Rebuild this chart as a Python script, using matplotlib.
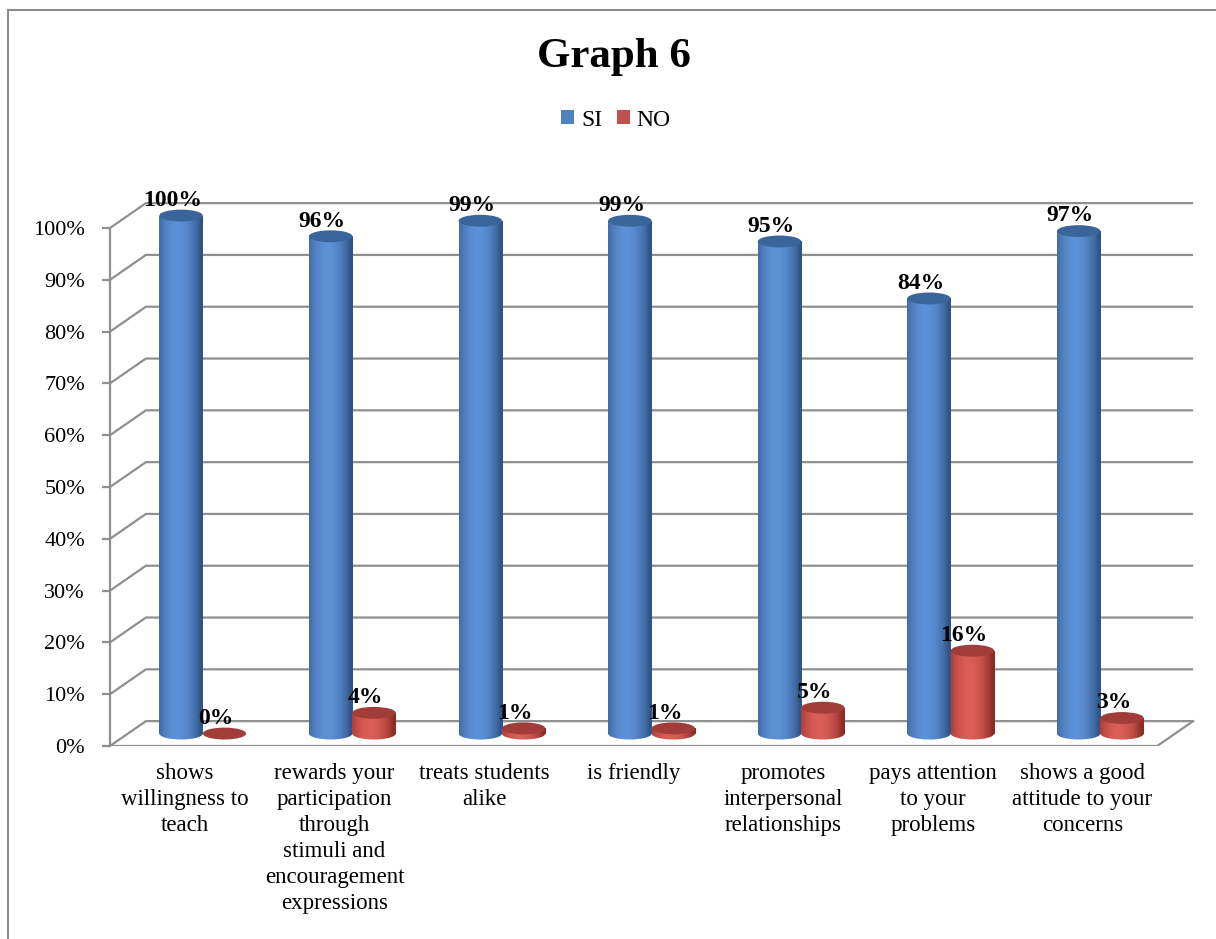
import numpy as np
from matplotlib import pyplot as plt
from matplotlib.lines import Line2D
from matplotlib.patches import Ellipse, Patch, Rectangle

# Data
categories = [
    "shows\nwillingness to\nteach",
    "rewards your\nparticipation\nthrough\nstimuli and\nencouragement\nexpressions",
    "treats students\nalike",
    "is friendly",
    "promotes\ninterpersonal\nrelationships",
    "pays attention\nto your\nproblems",
    "shows a good\nattitude to your\nconcerns",
]
si_values = [100, 96, 99, 99, 95, 84, 97]
no_values = [0, 4, 1, 1, 5, 16, 3]
series_names = ["SI", "NO"]
y_ticks = [0, 10, 20, 30, 40, 50, 60, 70, 80, 90, 100]

plt.rcParams["font.family"] = ["Liberation Serif", "DejaVu Serif"]

W, H = 1216, 939
fig = plt.figure(figsize=(W / 100, H / 100), dpi=100)

# Pseudo-3D geometry (depth offset of the back wall, in data units)
depth_x = 0.24
depth_y = 4.8
x_min, x_max = -0.5, len(categories) - 0.5
y_top = 110
px_per_cat = 149.6
px_per_pct = 5.18

ax = fig.add_axes([
    110 / W,
    (H - 746) / H,
    (x_max + 0.3 - x_min) * px_per_cat / W,
    y_top * px_per_pct / H,
])
ax.set_xlim(x_min, x_max + 0.3)
ax.set_ylim(0, y_top)
ax.set_autoscale_on(False)

grid_color = "#8f8f8f"
grid_lw = 1.6

# Back wall gridlines + side wall diagonals
for v in y_ticks:
    ax.plot([x_min, x_min + depth_x, x_max + depth_x],
            [v, v + depth_y, v + depth_y],
            color=grid_color, lw=grid_lw, zorder=1, solid_capstyle="butt")

# Floor front edge and right edge
ax.plot([x_min, x_max, x_max + depth_x], [0, 0, depth_y],
        color=grid_color, lw=grid_lw, zorder=1)

# Left value axis
for s in ["top", "right", "bottom"]:
    ax.spines[s].set_visible(False)
ax.spines["left"].set_bounds(0, 100)
ax.spines["left"].set_color(grid_color)
ax.spines["left"].set_linewidth(grid_lw)
ax.set_yticks(y_ticks)
ax.set_yticklabels([f"{v}%" for v in y_ticks])
ax.tick_params(axis="y", length=6, width=grid_lw, color=grid_color,
               labelsize=16, pad=12)

ax.set_xticks(range(len(categories)))
ax.set_xticklabels(categories, fontsize=16.5, linespacing=1.32, va="top")
ax.tick_params(axis="x", length=0, pad=12)


def shade(dark, light, n=64):
    t = np.linspace(0, 1, n)
    f = np.clip(np.cos(np.pi * (t - 0.42) * 0.95), 0, 1) ** 0.8
    dark = np.array(dark)
    light = np.array(light)
    return (dark[None, :] * (1 - f[:, None]) + light[None, :] * f[:, None])[None, :, :]


blue_grad = shade((0.19, 0.33, 0.53), (0.36, 0.57, 0.84))
red_grad = shade((0.55, 0.17, 0.15), (0.86, 0.37, 0.34))
blue_top = "#3a659b"
red_top = "#a03d39"

bar_w = 0.29
ell_h = 2.3
mid_dx = depth_x / 2
mid_dy = depth_y / 2


def cylinder(xc, value, grad, top_color):
    x0 = xc - bar_w / 2
    base = mid_dy
    top = value + mid_dy
    if value > 0:
        img = ax.imshow(grad, extent=(x0, x0 + bar_w, base - ell_h / 2, top),
                        aspect="auto", zorder=3, interpolation="bilinear")
        img.set_clip_path(Rectangle((x0, base), bar_w, top - base,
                                    transform=ax.transData))
        img2 = ax.imshow(grad, extent=(x0, x0 + bar_w, base - ell_h / 2, top),
                         aspect="auto", zorder=3, interpolation="bilinear")
        img2.set_clip_path(Ellipse((xc, base), bar_w, ell_h,
                                   transform=ax.transData))
    ax.add_patch(Ellipse((xc, top), bar_w, ell_h, facecolor=top_color,
                         edgecolor="none", zorder=4))


for i, (si, no) in enumerate(zip(si_values, no_values)):
    xb = i - 0.145 + mid_dx
    xr = i + 0.145 + mid_dx
    cylinder(xb, si, blue_grad, blue_top)
    cylinder(xr, no, red_grad, red_top)
    for xc, v in [(xb, si), (xr, no)]:
        ax.annotate(f"{v}%", (xc, v + mid_dy), xytext=(-6, 11),
                    textcoords="offset points", ha="center", va="center",
                    fontsize=17, fontweight="bold", zorder=6)

# Title and legend
fig.text(0.5 + 6 / W, 1 - 57 / H, "Graph 6", ha="center", va="center",
         fontsize=31, fontweight="bold")
handles = [Patch(facecolor="#4f81bd"), Patch(facecolor="#c0504d")]
fig.legend(handles, series_names, loc="center", ncol=2, frameon=False,
           bbox_to_anchor=(0.5 + 8 / W, 1 - 120 / H), fontsize=17,
           handlelength=0.55, handleheight=0.55, handletextpad=0.3,
           columnspacing=0.6)

# Outer chart frame (only top and left edges are inside the crop)
fig.add_artist(Line2D([8 / W, 1], [1 - 10 / H, 1 - 10 / H],
                      transform=fig.transFigure, color="#8c8c8c", lw=1.5))
fig.add_artist(Line2D([8 / W, 8 / W], [0, 1 - 10 / H],
                      transform=fig.transFigure, color="#8c8c8c", lw=1.5))

fig.savefig("out.png", dpi=100)
